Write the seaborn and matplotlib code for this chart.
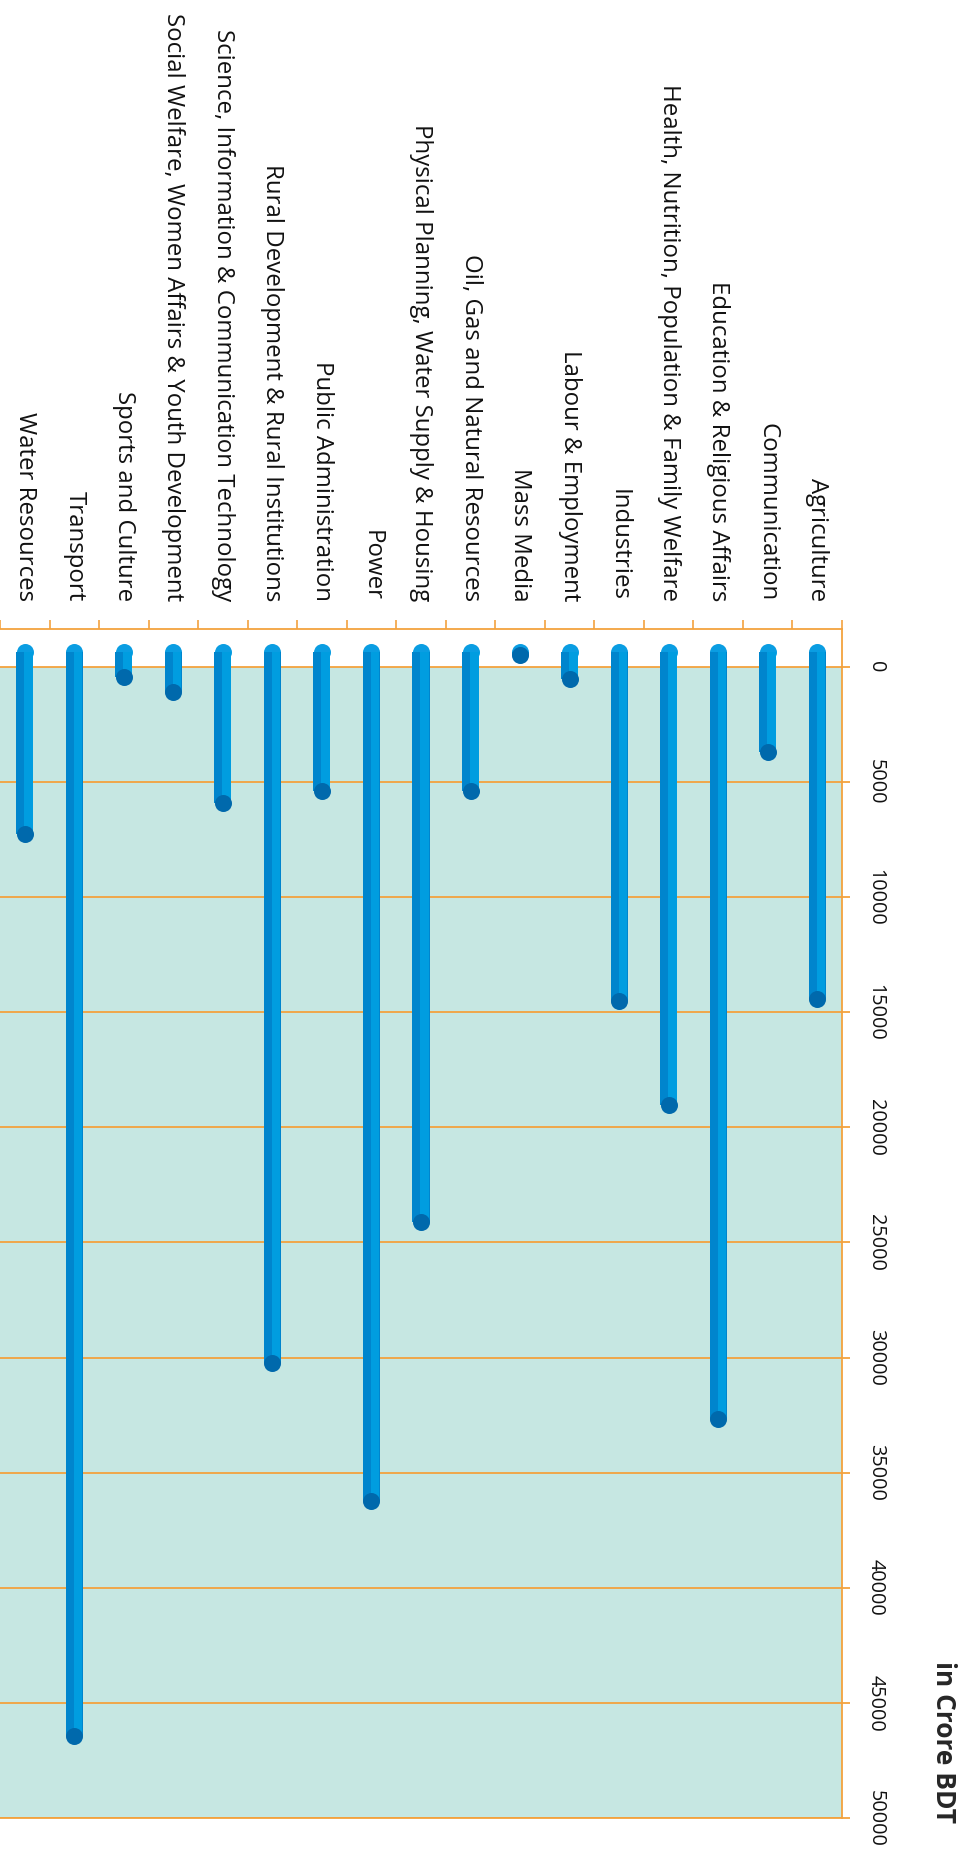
import numpy as np
import pandas as pd
import matplotlib
matplotlib.use('Agg')
import matplotlib.pyplot as plt
import seaborn as sns

# sector allocations, in crore BDT
sectors = [
    'Agriculture', 'Communication', 'Education & Religious Affairs',
    'Health, Nutrition, Population & Family Welfare', 'Industries',
    'Labour & Employment', 'Mass Media', 'Oil, Gas and Natural Resources',
    'Physical Planning, Water Supply & Housing', 'Power',
    'Public Administration', 'Rural Development & Rural Institutions',
    'Science, Information & Communication Technology',
    'Social Welfare, Women Affairs & Youth Development',
    'Sports and Culture', 'Transport', 'Water Resources',
]
allocation = [15080, 4350, 33330, 19710, 15190, 1200, 150, 6040, 24770,
              36880, 6040, 30900, 6580, 1770, 1120, 47120, 7930]
yticks = list(range(0, 50001, 5000))

ORANGE = '#F3A23E'
TEAL = '#C6E7E2'
BLUE_DARK = '#0085CD'
BLUE_LIGHT = '#009DE0'
BLUE_TOP = '#0A9DE2'
BLUE_END = '#0069AC'
DEPTH = 670  # fake 3d offset of the cylinders
BAR_W = 0.344

sns.set_style('white')
plt.rcParams['font.family'] = ['Open Sans', 'DejaVu Sans']

df = pd.DataFrame({'sector': sectors, 'value': allocation})
order = sectors[::-1]
df_ord = df.set_index('sector').loc[order].reset_index()
pos = np.arange(len(order))

fig = plt.figure(figsize=(9.66, 18.5), dpi=100)
ax = fig.add_axes([0.0, 0.0173, 0.8716, 0.6427])

# cylinder body: darker full bar + lighter right half for a bit of shading
sns.barplot(data=df, x='sector', y='value', order=order, color=BLUE_DARK,
            width=BAR_W, errorbar=None, saturation=1, ax=ax, zorder=3,
            linewidth=0)
n_first = len(ax.patches)
sns.barplot(data=df, x='sector', y='value', order=order, color=BLUE_LIGHT,
            width=BAR_W / 2, errorbar=None, saturation=1, ax=ax, zorder=3,
            linewidth=0)
for i, p in enumerate(ax.patches):
    p.set_y(-DEPTH)
    if i >= n_first:
        p.set_x(p.get_x() + BAR_W / 4 - 0.01)

# rounded start caps and dark end caps
ax.scatter(pos, np.full(len(pos), -DEPTH), s=150, color=BLUE_TOP, lw=0, zorder=2)
ax.scatter(pos, df_ord['value'] - DEPTH, s=150, color=BLUE_END, lw=0, zorder=4)

ax.axhspan(0, 50000, color=TEAL, zorder=0, lw=0)

ax.set_xlim(-0.5, len(order) - 0.5)
ax.set_ylim(50000, -1648)

# category axis on top
ax.xaxis.tick_top()
ax.set_xticks(pos)
ax.set_xticklabels(order, rotation=-90, fontsize=17.3, color='#111111')
ax.set_xticks(np.arange(-0.5, len(order), 1), minor=True)
ax.tick_params(axis='x', which='major', length=0, pad=20)
ax.tick_params(axis='x', which='minor', length=6.5, width=1.2, color=ORANGE,
               direction='out', top=True, bottom=False)
for lbl in ax.get_xticklabels():
    lbl.set_va('bottom')
    lbl.set_ha('center')
ax.set_xlabel(None)

# value axis on the right
ax.yaxis.tick_right()
ax.set_yticks(yticks)
ax.set_yticklabels([str(t) for t in yticks], fontsize=14.3, color='#111111')
ax.tick_params(axis='y', length=6, width=1.3, color=ORANGE, pad=11,
               labelrotation=-90)
for lbl in ax.get_yticklabels():
    lbl.set_va('center')
    lbl.set_ha('left')
ax.set_ylabel(None)
ax.grid(axis='y', color=ORANGE, lw=1.3)
ax.set_axisbelow(True)

for side in ['top', 'right', 'bottom']:
    ax.spines[side].set_color(ORANGE)
    ax.spines[side].set_linewidth(1.3)
ax.spines['left'].set_visible(False)

fig.text(944 / 966, 1 - 1823 / 1850, 'in Crore BDT', rotation=-90,
         ha='center', va='bottom', fontsize=19, fontweight='bold')

fig.savefig('out.png', dpi=100)
